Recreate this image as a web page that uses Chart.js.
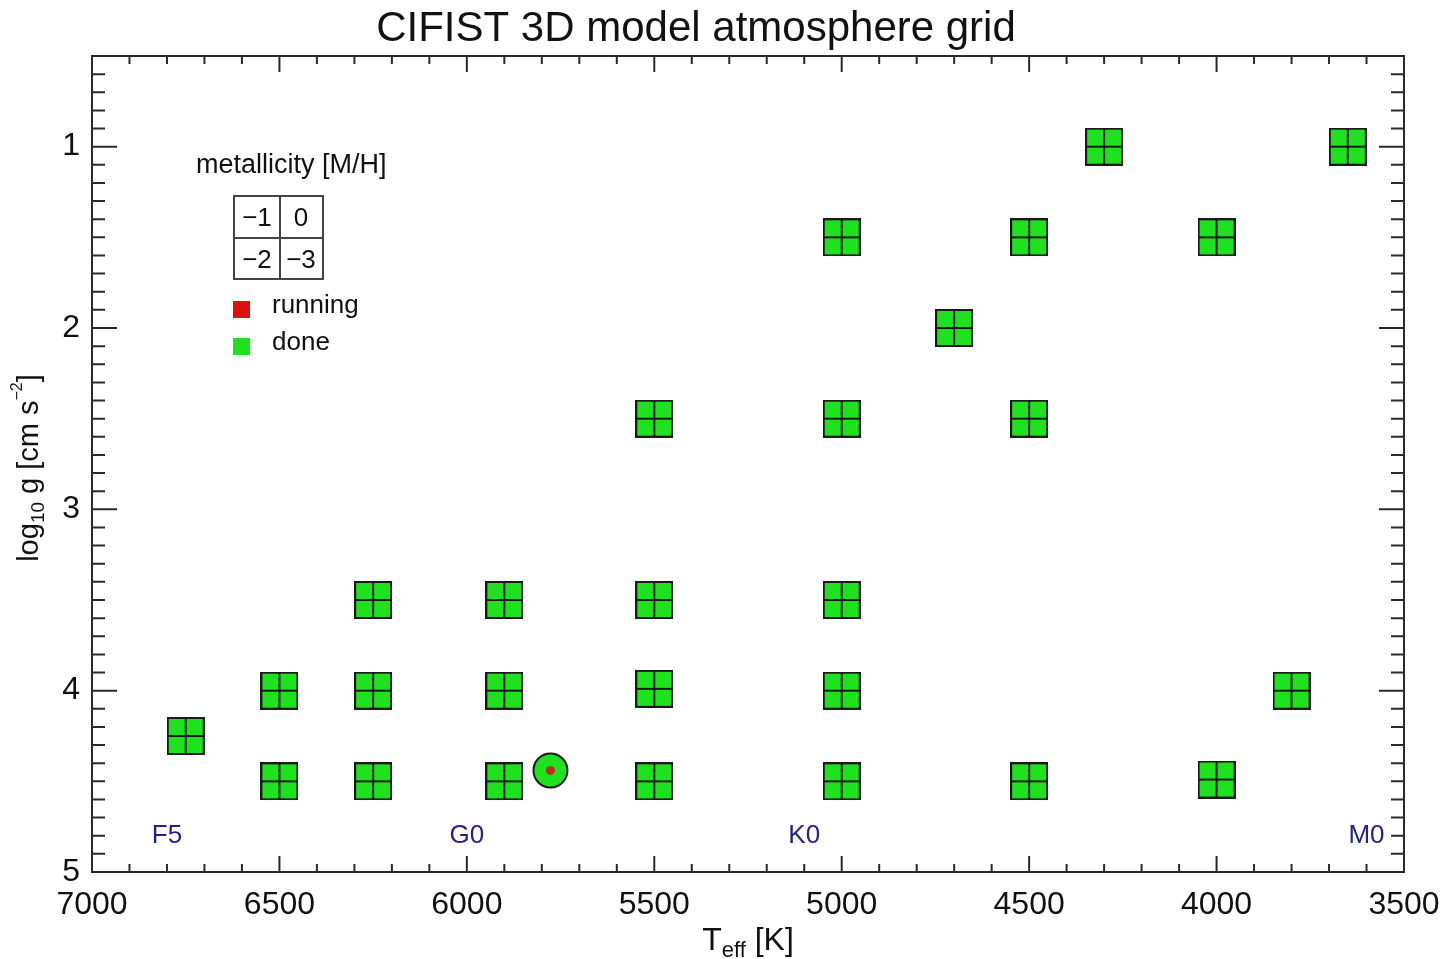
<!DOCTYPE html>
<html>
<head>
<meta charset="utf-8">
<script src="https://cdn.jsdelivr.net/npm/chart.js@4.4.1/dist/chart.umd.min.js"></script>
<style>
  body { margin: 0; background: #fff; }
  #wrap { width: 1445px; height: 959px; }
</style>
</head>
<body>
<div id="wrap"><canvas id="gridChart" width="1445" height="959"></canvas></div>
<script>
// model grid points (Teff [K], log g)
const gridTeff = [4300, 3650,
                  5000, 4500, 4000,
                  4700,
                  5500, 5000, 4500,
                  6250, 5900, 5500, 5000,
                  6500, 6250, 5900, 5500, 5000, 3800,
                  6750,
                  6500, 6250, 5900, 5500, 5000, 4500, 4000];
const gridLogg = [1.0, 1.0,
                  1.5, 1.5, 1.5,
                  2.0,
                  2.5, 2.5, 2.5,
                  3.5, 3.5, 3.5, 3.5,
                  4.0, 4.0, 4.0, 3.99, 4.0, 4.0,
                  4.25,
                  4.5, 4.5, 4.5, 4.5, 4.5, 4.5, 4.49];

// the Sun
const sunTeff = [5777];
const sunLogg = [4.44];

// spectral type labels along the bottom
const specTypes = ['F5', 'G0', 'K0', 'M0'];
const specTeff = [6800, 6000, 5100, 3600];
const specLogg = [4.8, 4.8, 4.8, 4.8];

// axis ticks
const xTicks = [7000, 6500, 6000, 5500, 5000, 4500, 4000, 3500];
const yTicks = [1, 2, 3, 4, 5];

const FONT = '"Liberation Sans", Arial, Helvetica, sans-serif';
const GREEN = '#1fe21f';
const INK = '#2a2a2a';

// marker: square split into four metallicity cells
function makeGridMarker(size) {
    const c = document.createElement('canvas');
    c.width = size; c.height = size;
    const g = c.getContext('2d');
    g.fillStyle = GREEN;
    g.fillRect(1, 1, size - 2, size - 2);
    g.strokeStyle = '#1a1a1a';
    g.lineWidth = 2;
    g.strokeRect(1, 1, size - 2, size - 2);
    g.beginPath();
    g.moveTo(size / 2, 1); g.lineTo(size / 2, size - 1);
    g.moveTo(1, size / 2); g.lineTo(size - 1, size / 2);
    g.stroke();
    return c;
}
const gridMarker = makeGridMarker(38);

function toPoints(xs, ys) {
    return xs.map((x, i) => ({ x: x, y: ys[i] }));
}

// text with sub/superscripts: parts = [{t, s, dy}]
function drawRich(ctx, parts, cx, cy) {
    let w = 0;
    parts.forEach(p => { ctx.font = p.s + 'px ' + FONT; w += ctx.measureText(p.t).width; });
    let x = cx - w / 2;
    ctx.textBaseline = 'alphabetic';
    ctx.textAlign = 'left';
    parts.forEach(p => {
        ctx.font = p.s + 'px ' + FONT;
        ctx.fillText(p.t, x, cy + (p.dy || 0));
        x += ctx.measureText(p.t).width;
    });
}

const decorPlugin = {
    id: 'decor',
    afterDatasetsDraw(chart) {
        const ctx = chart.ctx;
        const a = chart.chartArea;
        const xs = chart.scales.x, ys = chart.scales.y;
        ctx.save();

        // frame
        ctx.strokeStyle = INK;
        ctx.lineWidth = 2;
        ctx.strokeRect(a.left, a.top, a.right - a.left, a.bottom - a.top);

        // inward ticks on all four sides
        ctx.beginPath();
        for (let v = 3500; v <= 7000; v += 100) {
            const px = xs.getPixelForValue(v);
            const len = (v % 500 === 0) ? 16 : 8;
            ctx.moveTo(px, a.bottom); ctx.lineTo(px, a.bottom - len);
            ctx.moveTo(px, a.top); ctx.lineTo(px, a.top + len);
        }
        for (let k = 5; k <= 50; k++) {
            const v = k / 10;
            const py = ys.getPixelForValue(v);
            const len = (k % 10 === 0) ? 25 : 13;
            ctx.moveTo(a.left, py); ctx.lineTo(a.left + len, py);
            ctx.moveTo(a.right, py); ctx.lineTo(a.right - len, py);
        }
        ctx.stroke();

        // spectral types
        ctx.fillStyle = '#22228a';
        ctx.font = '26px ' + FONT;
        ctx.textAlign = 'center';
        ctx.textBaseline = 'middle';
        specTypes.forEach((s, i) => {
            ctx.fillText(s, xs.getPixelForValue(specTeff[i]), ys.getPixelForValue(specLogg[i]));
        });

        // legend
        ctx.fillStyle = '#111';
        ctx.font = '27px ' + FONT;
        ctx.textAlign = 'left';
        ctx.fillText('metallicity [M/H]', 196, 166);

        ctx.strokeStyle = '#444';
        ctx.lineWidth = 2;
        ctx.strokeRect(234, 196, 89, 83);
        ctx.beginPath();
        ctx.moveTo(280, 196); ctx.lineTo(280, 279);
        ctx.moveTo(234, 238); ctx.lineTo(323, 238);
        ctx.stroke();
        ctx.font = '26px ' + FONT;
        ctx.textAlign = 'center';
        ctx.fillText('\u22121', 257, 219);
        ctx.fillText('0', 301, 219);
        ctx.fillText('\u22122', 257, 261);
        ctx.fillText('\u22123', 301, 261);

        ctx.fillStyle = '#e01010';
        ctx.fillRect(233, 301, 17, 17);
        ctx.fillStyle = GREEN;
        ctx.fillRect(233, 338, 17, 17);
        ctx.fillStyle = '#111';
        ctx.textAlign = 'left';
        ctx.font = '26px ' + FONT;
        ctx.fillText('running', 272, 306);
        ctx.fillText('done', 272, 343);

        // title and axis titles
        ctx.fillStyle = '#111';
        drawRich(ctx, [{ t: 'CIFIST 3D model atmosphere grid', s: 42 }], 696, 41);
        drawRich(ctx, [{ t: 'T', s: 32 }, { t: 'eff', s: 22, dy: 7 }, { t: ' [K]', s: 32 }], 748, 950);

        ctx.translate(38, 468);
        ctx.rotate(-Math.PI / 2);
        drawRich(ctx, [{ t: 'log', s: 29 }, { t: '10', s: 19, dy: 6 }, { t: ' g [cm s', s: 29 },
                       { t: '\u22122', s: 16, dy: -16 }, { t: ']', s: 29 }], 0, 0);
        ctx.restore();
    }
};

const chart = new Chart(document.getElementById('gridChart').getContext('2d'), {
    type: 'scatter',
    data: {
        datasets: [{
            label: 'Sun core',
            data: toPoints(sunTeff, sunLogg),
            pointStyle: 'circle',
            pointRadius: 4.5,
            backgroundColor: '#b8331c',
            borderWidth: 0
        }, {
            label: 'Sun',
            data: toPoints(sunTeff, sunLogg),
            pointStyle: 'circle',
            pointRadius: 17,
            backgroundColor: GREEN,
            borderColor: '#1a1a1a',
            borderWidth: 2
        }, {
            label: 'grid',
            data: toPoints(gridTeff, gridLogg),
            pointStyle: gridMarker
        }]
    },
    options: {
        responsive: false,
        animation: false,
        layout: { padding: { top: 56, right: 41, left: 0, bottom: 0 } },
        plugins: {
            legend: { display: false },
            tooltip: { enabled: false },
            title: { display: false }
        },
        scales: {
            x: {
                type: 'linear',
                reverse: true,
                min: 3500,
                max: 7000,
                grid: { display: false, drawTicks: false },
                border: { display: false },
                afterBuildTicks: s => { s.ticks = xTicks.map(v => ({ value: v })); },
                afterFit: s => { s.height = 87; s.paddingLeft = 0; s.paddingRight = 0; },
                ticks: {
                    padding: 14,
                    maxRotation: 0,
                    autoSkip: false,
                    color: '#111',
                    font: { family: FONT, size: 32 },
                    callback: v => String(v)
                }
            },
            y: {
                type: 'linear',
                reverse: true,
                min: 0.5,
                max: 5,
                grid: { display: false, drawTicks: false },
                border: { display: false },
                afterBuildTicks: s => { s.ticks = yTicks.map(v => ({ value: v })); },
                afterFit: s => { s.width = 92; s.paddingTop = 0; s.paddingBottom = 0; },
                ticks: {
                    padding: 12,
                    autoSkip: false,
                    color: '#111',
                    font: { family: FONT, size: 32 },
                    callback: v => String(v)
                }
            }
        }
    },
    plugins: [decorPlugin]
});
</script>
</body>
</html>
